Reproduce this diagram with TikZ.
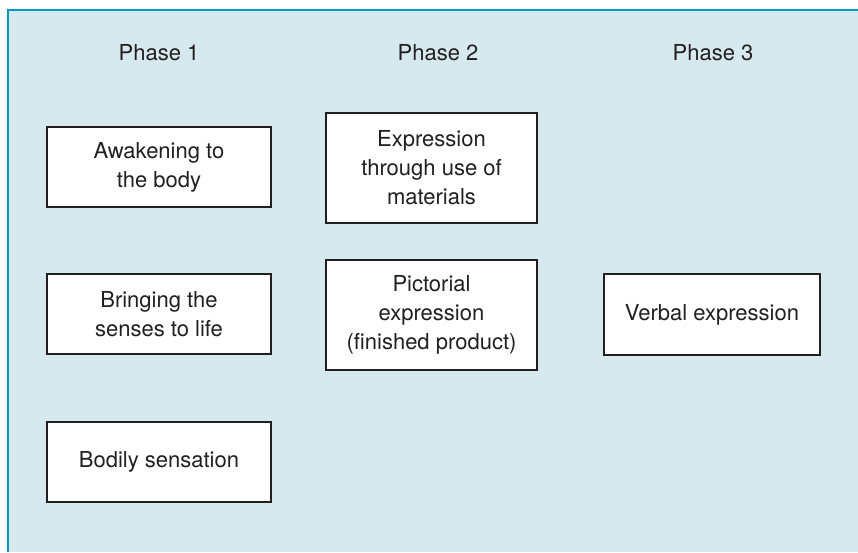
\documentclass[tikz,border=0pt]{standalone}
\usepackage{fontspec}
\setmainfont{TeX Gyre Heros}
\definecolor{bgblue}{RGB}{214,233,238}
\definecolor{edgeblue}{RGB}{0,152,190}
\definecolor{ink}{RGB}{35,31,32}
\tikzset{
  phaselabel/.style={anchor=base, text=ink, font=\fontsize{22}{29}\selectfont, inner sep=0pt},
  stagebox/.style={draw=ink, line width=2pt, fill=white, text=ink, align=center,
    font=\fontsize{22}{29}\selectfont, inner sep=0pt, outer sep=0pt}
}
\begin{document}
\begin{tikzpicture}[x=1pt,y=-1pt]
\useasboundingbox (0,0) rectangle (858,552);
\fill[white] (0,0) rectangle (858,552);
\fill[bgblue] (8,10) rectangle (858,552);
\draw[edgeblue, line width=2pt] (8,552) -- (8,10) -- (858,10);

\node[phaselabel] (p1) at (159,60) {Phase 1};
\node[phaselabel] (p2) at (438,60) {Phase 2};
\node[phaselabel] (p3) at (713,60) {Phase 3};

\node[stagebox, minimum width=224pt, minimum height=80pt] (awak) at (159,167) {Awakening to\\the body};
\node[stagebox, minimum width=224pt, minimum height=80pt] (bring) at (159,314) {Bringing the\\senses to life};
\node[stagebox, minimum width=224pt, minimum height=80pt] (bodily) at (159,462) {Bodily sensation};

\node[stagebox, minimum width=211pt, minimum height=110pt] (expr) at (431.5,168) {Expression\\through use of\\materials};
\node[stagebox, minimum width=211pt, minimum height=110pt] (pict) at (431.5,314.5) {Pictorial\\expression\\(finished product)};

\node[stagebox, minimum width=216pt, minimum height=81pt] (verbal) at (712,314.5) {Verbal expression};
\end{tikzpicture}
\end{document}
